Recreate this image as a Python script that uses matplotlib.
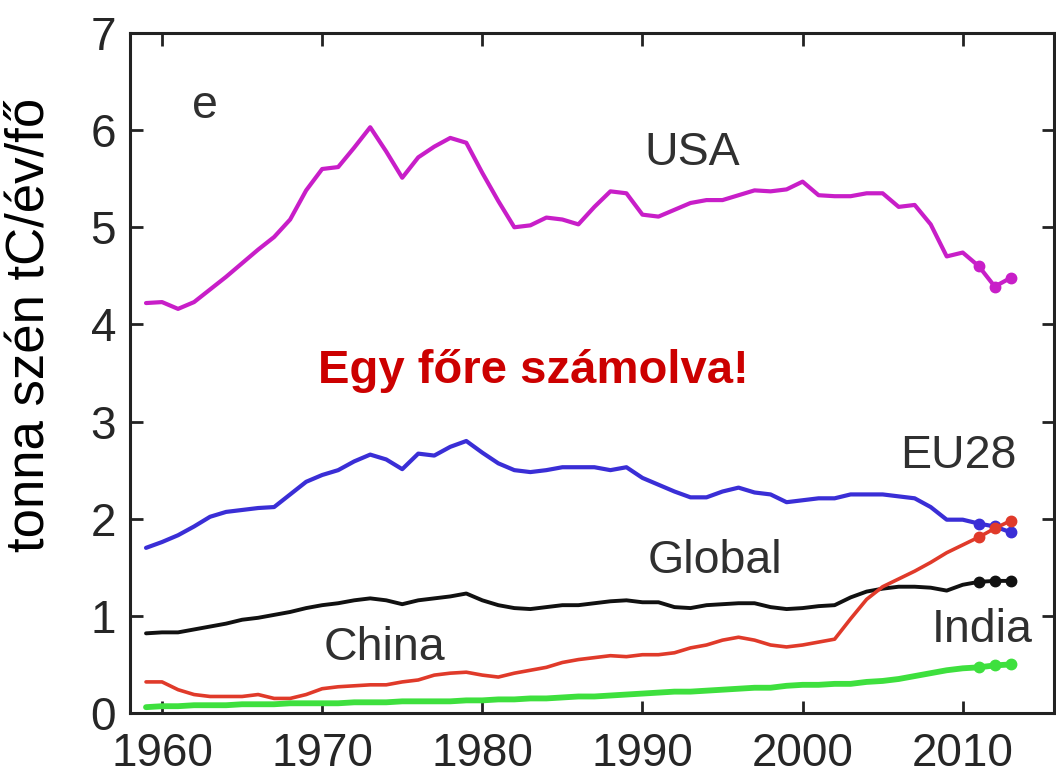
import numpy as np
import matplotlib
matplotlib.use('Agg')
from matplotlib import pyplot as plt

plt.rcParams['font.family'] = ['Liberation Sans', 'DejaVu Sans']

years = list(range(1959, 2014))

usa = [4.22, 4.23, 4.16, 4.23, 4.36, 4.49, 4.63, 4.77, 4.90, 5.08,
       5.38, 5.60, 5.62, 5.82, 6.03, 5.78, 5.51, 5.72, 5.83, 5.92,
       5.87, 5.56, 5.27, 5.00, 5.02, 5.10, 5.08, 5.03, 5.21, 5.37,
       5.35, 5.13, 5.11, 5.18, 5.25, 5.28, 5.28, 5.33, 5.38, 5.37,
       5.39, 5.47, 5.33, 5.32, 5.32, 5.35, 5.35, 5.21, 5.23, 5.03,
       4.70, 4.74, 4.60, 4.39, 4.48]
eu28 = [1.70, 1.76, 1.83, 1.92, 2.02, 2.07, 2.09, 2.11, 2.12, 2.25,
        2.38, 2.45, 2.50, 2.59, 2.66, 2.61, 2.51, 2.67, 2.65, 2.74,
        2.80, 2.68, 2.57, 2.50, 2.48, 2.50, 2.53, 2.53, 2.53, 2.50,
        2.53, 2.42, 2.35, 2.28, 2.22, 2.22, 2.28, 2.32, 2.27, 2.25,
        2.17, 2.19, 2.21, 2.21, 2.25, 2.25, 2.25, 2.23, 2.21, 2.12,
        1.99, 1.99, 1.95, 1.92, 1.86]
world = [0.82, 0.83, 0.83, 0.86, 0.89, 0.92, 0.96, 0.98, 1.01, 1.04,
         1.08, 1.11, 1.13, 1.16, 1.18, 1.16, 1.12, 1.16, 1.18, 1.20,
         1.23, 1.16, 1.11, 1.08, 1.07, 1.09, 1.11, 1.11, 1.13, 1.15,
         1.16, 1.14, 1.14, 1.09, 1.08, 1.11, 1.12, 1.13, 1.13, 1.09,
         1.07, 1.08, 1.10, 1.11, 1.19, 1.25, 1.28, 1.30, 1.30, 1.29,
         1.26, 1.32, 1.35, 1.36, 1.36]
china = [0.32, 0.32, 0.24, 0.19, 0.17, 0.17, 0.17, 0.19, 0.15, 0.15,
         0.19, 0.25, 0.27, 0.28, 0.29, 0.29, 0.32, 0.34, 0.39, 0.41,
         0.42, 0.39, 0.37, 0.41, 0.44, 0.47, 0.52, 0.55, 0.57, 0.59,
         0.58, 0.60, 0.60, 0.62, 0.67, 0.70, 0.75, 0.78, 0.75, 0.70,
         0.68, 0.70, 0.73, 0.76, 0.97, 1.17, 1.30, 1.38, 1.46, 1.55,
         1.65, 1.73, 1.81, 1.90, 1.98]
india = [0.06, 0.07, 0.07, 0.08, 0.08, 0.08, 0.09, 0.09, 0.09, 0.10,
         0.10, 0.10, 0.10, 0.11, 0.11, 0.11, 0.12, 0.12, 0.12, 0.12,
         0.13, 0.13, 0.14, 0.14, 0.15, 0.15, 0.16, 0.17, 0.17, 0.18,
         0.19, 0.20, 0.21, 0.22, 0.22, 0.23, 0.24, 0.25, 0.26, 0.26,
         0.28, 0.29, 0.29, 0.30, 0.30, 0.32, 0.33, 0.35, 0.38, 0.41,
         0.44, 0.46, 0.47, 0.49, 0.50]

# last three years are shown with dots
n_dots = 3

series = [
    ('USA', usa, '#c81ec8', 3.0),
    ('EU28', eu28, '#3a2ed6', 3.0),
    ('Global', world, '#111111', 2.8),
    ('China', china, '#e03a2a', 2.6),
    ('India', india, '#3ee03e', 4.2),
]

# label text, x, baseline y
labels = [
    ('USA', 1993.1, 5.64),
    ('EU28', 2009.7, 2.52),
    ('Global', 1994.5, 1.44),
    ('China', 1973.9, 0.55),
    ('India', 2011.2, 0.73),
    ('e', 1962.7, 6.13),
]

fig = plt.figure(figsize=(10.56, 7.8), dpi=100)
ax = fig.add_axes([130/1056, 67/780, 924/1056, 680/780])

yrs = np.array(years)
for name, vals, col, lw in series:
    v = np.array(vals)
    ax.plot(yrs, v, color=col, lw=lw, solid_capstyle='round', solid_joinstyle='round')
    ax.plot(yrs[-n_dots:], v[-n_dots:], 'o', color=col, ms=7.5, mec=col)

ax.set_xlim(1958, 2015.7)
ax.set_ylim(0, 7)
ax.set_xticks([1960, 1970, 1980, 1990, 2000, 2010])
ax.set_yticks(range(0, 8))

ax.tick_params(direction='in', length=9, width=2, top=True, right=True,
               labelsize=33, labelcolor='#262626', color='#222222')
ax.tick_params(axis='x', pad=14)
ax.tick_params(axis='y', pad=10)
for s in ax.spines.values():
    s.set_linewidth(2.2)
    s.set_color('#222222')

for txt, x, y in labels:
    ax.text(x, y, txt, fontsize=33.5, color='#303030', ha='center', va='baseline')

ax.text(1983.2, 3.40, 'Egy főre számolva!', fontsize=34, fontweight='bold',
        color='#cc0000', ha='center', va='baseline')

fig.text(30/1056, 1 - 325/780, 'tonna szén tC/év/fő', rotation=90,
         fontsize=38, color='black', ha='center', va='center')

plt.savefig('out.png', dpi=100)
